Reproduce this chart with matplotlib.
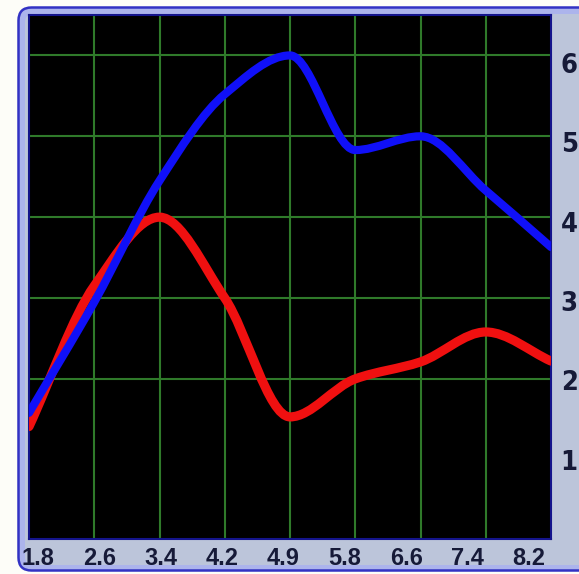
import numpy as np
import matplotlib
matplotlib.use("Agg")
import matplotlib.pyplot as plt
from matplotlib.patches import FancyBboxPatch, PathPatch
from matplotlib.path import Path
from matplotlib import font_manager
import os

# ---- data ----
x_labels = ["1.8", "2.6", "3.4", "4.2", "4.9", "5.8", "6.6", "7.4", "8.2"]
y_labels = ["1", "2", "3", "4", "5", "6"]
blue_values = [1.58, 2.95, 4.45, 5.52, 6.0, 4.83, 5.0, 4.33, 3.63]
red_values = [1.41, 3.15, 4.0, 3.0, 1.53, 2.0, 2.21, 2.58, 2.22]


def monotone_path(xs, ys):
    xs = np.asarray(xs, float)
    ys = np.asarray(ys, float)
    h = np.diff(xs)
    d = np.diff(ys) / h
    m = np.zeros_like(ys)
    m[0], m[-1] = d[0], d[-1]
    for i in range(1, len(ys) - 1):
        if d[i - 1] * d[i] <= 0:
            m[i] = 0.0
        else:
            m[i] = 2.0 / (1.0 / d[i - 1] + 1.0 / d[i])
    verts = [(xs[0], ys[0])]
    codes = [Path.MOVETO]
    for i in range(len(xs) - 1):
        verts += [(xs[i] + h[i] / 3, ys[i] + m[i] * h[i] / 3),
                  (xs[i + 1] - h[i] / 3, ys[i + 1] - m[i + 1] * h[i] / 3),
                  (xs[i + 1], ys[i + 1])]
        codes += [Path.CURVE4] * 3
    return Path(verts, codes)


def font_by_file(names, size):
    for f in font_manager.fontManager.ttflist:
        if os.path.basename(f.fname) in names:
            return font_manager.FontProperties(fname=f.fname, size=size)
    return None


# condensed bold for y labels, regular-width bold for x labels
ylab_font = (font_by_file(["LiberationSansNarrow-Bold.ttf"], 20)
             or font_by_file(["DejaVuSansCondensed-Bold.ttf"], 19.5)
             or font_manager.FontProperties(family="Liberation Sans", weight="bold", size=17))
xlab_font = (font_by_file(["LiberationSans-Bold.ttf"], 17)
             or font_manager.FontProperties(family="DejaVu Sans", weight="bold", size=14))

fig = plt.figure(figsize=(5.79, 5.74), dpi=100)
fig.patch.set_facecolor("#fdfdf8")

# outer rounded frame (display / pixel coordinates)
outer = FancyBboxPatch((18.5, 3.5), 620, 563,
                       boxstyle="round,pad=0,rounding_size=13",
                       facecolor="#acb4ec", edgecolor="#3232c4",
                       linewidth=1.8, transform=None, zorder=-3)
fig.patches.append(outer)
inner = FancyBboxPatch((25, 9), 620, 551,
                       boxstyle="round,pad=0,rounding_size=8",
                       facecolor="#bcc5da", edgecolor="none",
                       transform=None, zorder=-2)
fig.patches.append(inner)

ax = fig.add_axes([29 / 579, 35 / 574, 522 / 579, 524 / 574])
ax.set_zorder(1)
ax.set_facecolor("black")
ax.set_xlim(0, len(x_labels) - 1)
ax.set_ylim(0.02, 6.5)

xs = np.arange(len(blue_values))
ax.add_patch(PathPatch(monotone_path(xs, red_values), fill=False,
                       edgecolor="#f01010", linewidth=6.6, capstyle="round",
                       joinstyle="round", zorder=3))
ax.add_patch(PathPatch(monotone_path(xs, blue_values), fill=False,
                       edgecolor="#1010f8", linewidth=5.9, capstyle="round",
                       joinstyle="round", zorder=4))

# grid lines on minor ticks
ax.set_xticks(np.arange(1, len(x_labels) - 1), minor=True)
ax.set_yticks(np.arange(1, len(y_labels) + 1), minor=True)
ax.grid(which="minor", color="#2f7a2a", linewidth=1.5)
ax.grid(which="major", visible=False)
ax.set_axisbelow(True)

# tick labels on major ticks
ax.set_xticks(np.linspace(0.14, 7.66, len(x_labels)))
ax.set_xticklabels(x_labels, fontproperties=xlab_font, color="#161a38")
ax.yaxis.tick_right()
ax.set_yticks(np.linspace(1.0, 5.91, len(y_labels)))
ax.set_yticklabels(y_labels, fontproperties=ylab_font, color="#161a38")
ax.tick_params(axis="both", which="both", length=0)
ax.tick_params(axis="x", pad=5.5)
ax.tick_params(axis="y", pad=7)

for s in ax.spines.values():
    s.set_color("#14148c")
    s.set_linewidth(1.5)

fig.savefig("out.png", dpi=100, facecolor=fig.get_facecolor())
